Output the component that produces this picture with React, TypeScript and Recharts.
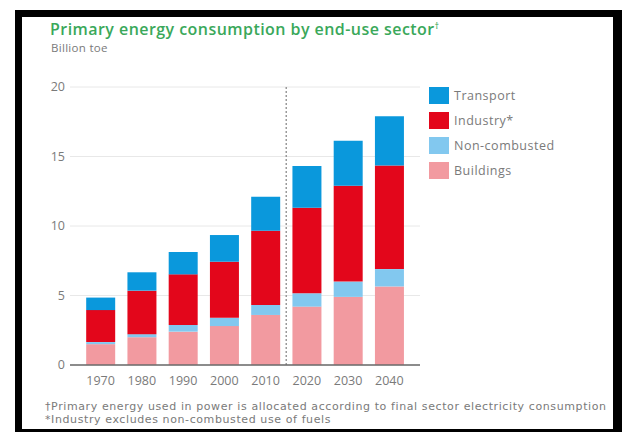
import {
  BarChart, Bar, XAxis, YAxis, CartesianGrid, Legend, ReferenceLine,
} from 'recharts'

const YEARS = ['1970', '1980', '1990', '2000', '2010', '2020', '2030', '2040']
const BUILDINGS = [1.5, 2.0, 2.4, 2.8, 3.6, 4.2, 4.9, 5.65]
const NON_COMBUSTED = [0.15, 0.22, 0.48, 0.6, 0.72, 0.96, 1.1, 1.25]
const INDUSTRY = [2.3, 3.13, 3.64, 4.03, 5.34, 6.16, 6.9, 7.45]
const TRANSPORT = [0.9, 1.32, 1.61, 1.92, 2.45, 3.0, 3.24, 3.55]
const Y_TICKS = [0, 5, 10, 15, 20]

const SERIES = [
  { key: 'buildings', name: 'Buildings', color: '#f29aa0' },
  { key: 'nonCombusted', name: 'Non-combusted', color: '#82c8ef' },
  { key: 'industry', name: 'Industry*', color: '#e3061b' },
  { key: 'transport', name: 'Transport', color: '#0a98dc' },
]

const data = YEARS.map((year, i) => ({
  year,
  buildings: BUILDINGS[i],
  nonCombusted: NON_COMBUSTED[i],
  industry: INDUSTRY[i],
  transport: TRANSPORT[i],
}))

const WIDE = '"Open Sans", "Liberation Sans", sans-serif'
const GREY = '#7a7a7a'

// top of the stack first, like the original
function LegendBox() {
  const items = [...SERIES].reverse()
  return (
    <div style={{ fontFamily: WIDE }}>
      {items.map(s => (
        <div key={s.key} style={{ display: 'flex', alignItems: 'center', height: 25 }}>
          <span style={{ width: 20, height: 17, background: s.color, display: 'inline-block' }} />
          <span style={{ marginLeft: 5, fontSize: 12.5, letterSpacing: 0.5, color: GREY }}>{s.name}</span>
        </div>
      ))}
    </div>
  )
}

export default function App() {
  return (
    <div style={{ position: 'fixed', left: 0, top: 0, width: 622, height: 432, background: '#fff', overflow: 'hidden' }}>
      <div
        style={{
          position: 'absolute', left: 15, top: 10, width: 591, height: 412,
          borderStyle: 'solid', borderColor: '#000',
          borderWidth: '7px 9px 3px 7px', background: '#fff',
        }}
      />
      <div style={{ position: 'absolute', left: 50, top: 18, fontFamily: WIDE, fontSize: 16, fontWeight: 600, letterSpacing: 0.45, color: '#3aa85a', whiteSpace: 'nowrap' }}>
        Primary energy consumption by end-use sector<sup style={{ fontSize: 8 }}>†</sup>
      </div>
      <div style={{ position: 'absolute', left: 51, top: 40, fontFamily: WIDE, fontSize: 11.5, letterSpacing: 0.3, color: GREY }}>
        Billion toe
      </div>
      <div style={{ position: 'absolute', left: 0, top: 0 }}>
        <BarChart
          width={622}
          height={432}
          data={data}
          margin={{ top: 87, right: 202, bottom: 37, left: 10 }}
          barCategoryGap="15%"
        >
          <CartesianGrid vertical={false} stroke="#e8e8e8" />
          <XAxis
            dataKey="year"
            padding={{ left: 10, right: 10 }}
            tickLine={false}
            axisLine={{ stroke: '#6a6a6a', strokeWidth: 1.5 }}
            tick={{ fill: GREY, fontSize: 12.5, fontFamily: WIDE }}
            tickMargin={5}
            height={30}
          />
          <YAxis
            domain={[0, 20]}
            ticks={Y_TICKS}
            axisLine={false}
            tickLine={false}
            tickSize={3}
            tick={{ fill: GREY, fontSize: 12.5, fontFamily: WIDE }}
            width={60}
          />
          <ReferenceLine x="2010" position="end" stroke="#9a9a9a" strokeDasharray="2 2" strokeWidth={1.5} />
          {SERIES.map(s => (
            <Bar key={s.key} dataKey={s.key} name={s.name} stackId="a" fill={s.color} isAnimationActive={false} />
          ))}
          <Legend
            layout="horizontal"
            align="center"
            verticalAlign="middle"
            content={<LegendBox />}
            wrapperStyle={{ left: 429, top: 83, width: 170, height: 100 }}
          />
        </BarChart>
      </div>
      <div style={{ position: 'absolute', left: 45, top: 400, fontFamily: '"DejaVu Sans", sans-serif', fontSize: 11, letterSpacing: 0.6, lineHeight: '13px', color: GREY, whiteSpace: 'nowrap' }}>
        <div>†Primary energy used in power is allocated according to final sector electricity consumption</div>
        <div>*Industry excludes non-combusted use of fuels</div>
      </div>
    </div>
  )
}
